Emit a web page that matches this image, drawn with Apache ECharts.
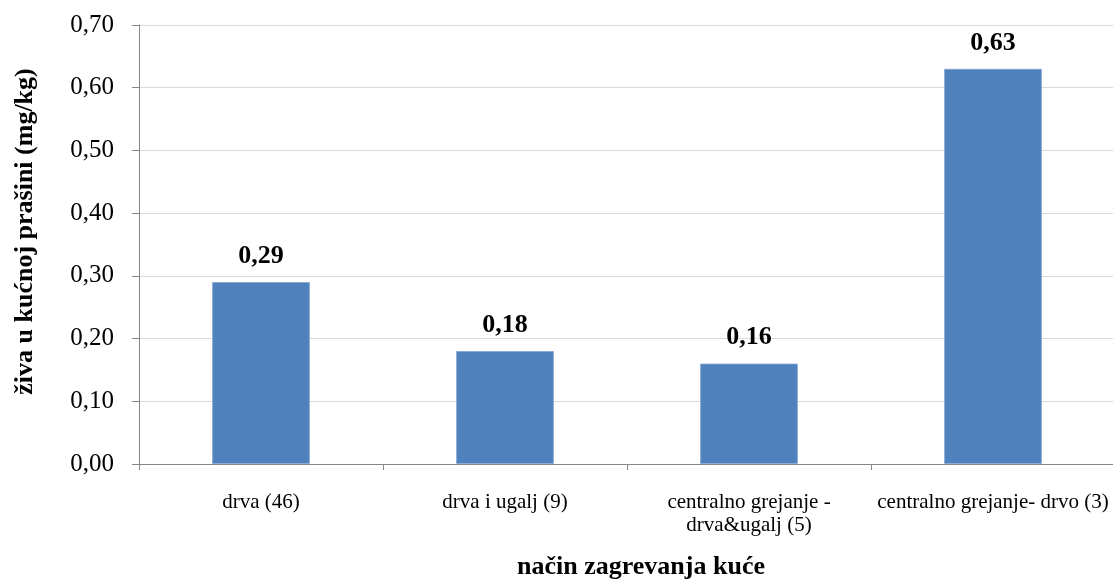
<!DOCTYPE html>
<html><head><meta charset="utf-8">
<script src="https://cdn.jsdelivr.net/npm/echarts@6/dist/echarts.min.js"></script>
<style>html,body{margin:0;padding:0;background:#fff;overflow:hidden}#c{width:1113px;height:581px}</style>
</head><body><div id="c"></div>
<script>
const categories = ['drva (46)', 'drva i ugalj (9)', 'centralno grejanje -\ndrva&ugalj (5)', 'centralno grejanje- drvo (3)'];
const values = [0.29, 0.18, 0.16, 0.63];
const yTicks = { min: 0, max: 0.7, interval: 0.1 };
const xTitle = 'način zagrevanja kuće';
const yTitle = 'živa u kućnoj prašini (mg/kg)';

const fmt = v => v.toFixed(2).replace('.', ',');
const chart = echarts.init(document.getElementById('c'), null, {renderer: 'canvas'});
chart.setOption({
  animation: false,
  backgroundColor: '#fff',
  textStyle: { fontFamily: 'Liberation Serif' },
  grid: { left: 139, right: -2, top: 25, bottom: 117, containLabel: false, outerBoundsMode: 'none' },
  xAxis: {
    type: 'category',
    data: categories,
    name: xTitle,
    nameLocation: 'middle',
    nameGap: 90,
    nameTextStyle: { fontFamily: 'Liberation Serif', fontWeight: 'bold', fontSize: 26, color: '#000', padding: [0, 0, 0, 28] },
    axisLine: { lineStyle: { color: '#868686', width: 1 } },
    axisTick: { show: true, alignWithLabel: false, length: 6, lineStyle: { color: '#868686' } },
    axisLabel: { color: '#000', fontSize: 21, fontFamily: 'Liberation Serif', margin: 27, lineHeight: 23, interval: 0 },
    splitLine: { show: false }
  },
  yAxis: {
    type: 'value',
    min: yTicks.min, max: yTicks.max, interval: yTicks.interval,
    name: yTitle,
    nameLocation: 'middle',
    nameGap: 101,
    nameTextStyle: { fontFamily: 'Liberation Serif', fontWeight: 'bold', fontSize: 26, color: '#000', padding: [0, 0, 0, 26] },
    axisLine: { show: true, lineStyle: { color: '#868686', width: 1 } },
    axisTick: { show: true, length: 7, lineStyle: { color: '#868686' } },
    axisLabel: { color: '#000', fontSize: 25, fontFamily: 'Liberation Serif', margin: 25, formatter: v => fmt(v) },
    splitLine: { show: true, lineStyle: { color: '#d9d9d9', width: 1 } }
  },
  series: [{
    type: 'bar',
    data: values,
    barWidth: '40%',
    itemStyle: { color: '#4F81BD', borderColor: '#7FA3D0', borderWidth: 0.8 },
    label: {
      show: true, position: 'top', distance: 13,
      fontFamily: 'Liberation Serif', fontWeight: 'bold', fontSize: 26, color: '#000',
      formatter: p => fmt(p.value)
    }
  }]
});
</script></body></html>
